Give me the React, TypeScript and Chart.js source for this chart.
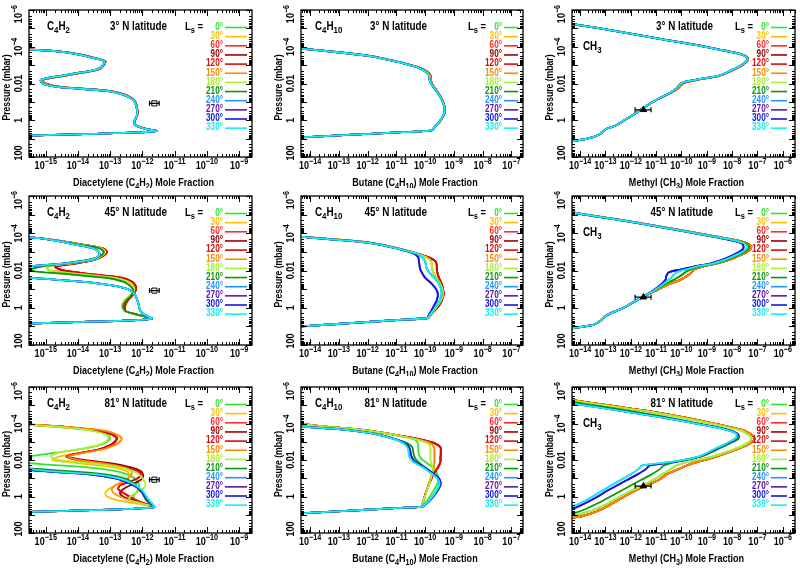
import React, { useEffect, useRef } from "react";
import { Chart, registerables } from "chart.js";

Chart.register(...registerables);

type Seg = [string, number]; // text, 0 normal / 1 superscript / -1 subscript

// ---------------- seasons (solar longitude Ls) ----------------
const SEASONS = [0, 30, 60, 90, 120, 150, 180, 210, 240, 270, 300, 330];
const SEASON_COLORS = [
  "#2ee62e", "#ffbe00", "#ff2a2a", "#a00000", "#dc0a0a", "#ff8c00",
  "#aaf032", "#0a960a", "#1e96ff", "#6414aa", "#1414e6", "#14f0f0",
];
const LATITUDES = ["3° N latitude", "45° N latitude", "81° N latitude"];

// ---------------- axes (log10 units) ----------------
const Y_RANGE = [-6, 2]; // log10 pressure (mbar), top -> bottom
const Y_LABEL_VALUES = [-6, -4, -2, 0, 2];
const Y_LABEL_TEXT: Seg[][] = [
  [["10", 0], ["−6", 1]],
  [["10", 0], ["−4", 1]],
  [["0.01", 0]],
  [["1", 0]],
  [["100", 0]],
];
const X_RANGE_C4H2 = [-15.52, -8.6];
const X_RANGE_C4H10 = [-14.32, -6.6];
const X_RANGE_CH3 = [-14.32, -5.52];
const X_TICKS_C4H2 = [-15, -14, -13, -12, -11, -10, -9];
const X_TICKS_C4H10 = [-14, -13, -12, -11, -10, -9, -8, -7];
const X_TICKS_CH3 = [-14, -13, -12, -11, -10, -9, -8, -7, -6];
const MINOR = [0.301, 0.477, 0.602, 0.699, 0.778, 0.845, 0.903, 0.954];

// ---------------- log10 pressure grids (mbar) ----------------
const LP_C4H2 = [-4.2, -3.85, -3.75, -3.6, -3.4, -3.2, -3.0, -2.8, -2.6, -2.4, -2.2, -2.0, -1.8, -1.6, -1.4, -1.2, -1.0, -0.8, -0.6, -0.4, -0.2, 0.0, 0.2, 0.35, 0.5, 0.58, 0.66, 0.75, 0.85, 1.2];
const LP_C4H10 = [-4.1, -3.9, -3.7, -3.5, -3.3, -3.1, -2.9, -2.7, -2.5, -2.3, -2.1, -1.9, -1.6, -1.3, -1.0, -0.7, -0.4, -0.1, 0.2, 0.4, 0.55, 0.65, 0.8, 1.0, 1.2];
const LP_CH3 = [-5.5, -5.24, -5.0, -4.7, -4.4, -4.1, -3.8, -3.6, -3.45, -3.3, -3.15, -3.0, -2.8, -2.6, -2.4, -2.2, -2.05, -1.9, -1.7, -1.5, -1.2, -0.9, -0.6, -0.3, 0.0, 0.3, 0.5, 0.7, 0.9, 1.1, 1.3];

// ---------------- C4H2 profiles: log10 mole fraction ----------------
const C4H2_03N_A = [-19, -15.5, -14.6, -14.0, -13.5, -13.15, -13.2, -13.32, -13.85, -14.5, -15.1, -15.0, -14.5, -13.05, -12.55, -12.33, -12.22, -12.18, -12.16, -12.15, -12.17, -12.23, -12.24, -12.12, -11.82, -11.56, -12.1, -13.8, -15.7, -22];
const C4H2_03N_B = [-19, -15.55, -14.65, -14.05, -13.55, -13.18, -13.23, -13.36, -13.9, -14.58, -15.15, -15.1, -14.58, -13.12, -12.6, -12.36, -12.24, -12.2, -12.17, -12.16, -12.18, -12.24, -12.25, -12.13, -11.83, -11.57, -12.1, -13.8, -15.7, -22];
const C4H2_03N_MAP = [0, 0, 0, 0, 0, 0, 1, 1, 1, 1, 1, 1];

const C4H2_45N_G = [-19, -16.5, -15.3, -14.65, -14.0, -13.35, -13.2, -13.3, -13.6, -14.35, -15.2, -15.5, -14.3, -13.1, -12.6, -12.4, -12.3, -12.3, -12.38, -12.5, -12.58, -12.6, -12.5, -12.2, -11.85, -11.71, -12.2, -13.6, -15.6, -22];
const C4H2_45N_O = [-19, -16.5, -15.3, -14.62, -13.95, -13.3, -13.15, -13.25, -13.5, -14.15, -14.95, -14.9, -13.9, -12.85, -12.45, -12.3, -12.25, -12.3, -12.42, -12.55, -12.62, -12.62, -12.52, -12.22, -11.85, -11.71, -12.2, -13.6, -15.6, -22];
const C4H2_45N_R = [-19, -16.5, -15.3, -14.6, -13.9, -13.25, -13.1, -13.2, -13.45, -14.0, -14.7, -14.45, -13.6, -12.62, -12.32, -12.22, -12.2, -12.25, -12.35, -12.45, -12.52, -12.55, -12.5, -12.2, -11.85, -11.71, -12.2, -13.6, -15.6, -22];
const C4H2_45N_B = [-19, -16.5, -15.3, -14.7, -14.1, -13.55, -13.35, -13.35, -13.55, -14.3, -15.6, -16.4, -16.3, -15.4, -13.9, -12.95, -12.45, -12.28, -12.2, -12.16, -12.12, -12.1, -12.05, -11.95, -11.8, -11.71, -12.2, -13.6, -15.6, -22];
const C4H2_45N_MAP = [0, 1, 2, 2, 2, 1, 1, 0, 3, 3, 3, 3];

const C4H2_81N_G0 = [-18, -14.9, -14.2, -13.5, -13.1, -13.0, -13.1, -13.35, -13.9, -14.7, -15.5, -15.9, -15.3, -13.7, -12.85, -12.45, -12.25, -12.15, -12.1, -12.12, -12.2, -12.28, -12.22, -12.02, -11.72, -11.63, -12.2, -13.6, -15.6, -22];
const C4H2_81N_O30 = [-18, -14.6, -13.95, -13.15, -12.8, -12.65, -12.72, -12.9, -13.25, -13.9, -14.55, -14.8, -13.9, -12.9, -12.5, -12.4, -12.45, -12.6, -12.85, -13.05, -13.15, -13.1, -12.8, -12.3, -11.85, -11.68, -12.2, -13.6, -15.6, -22];
const C4H2_81N_RA = [-18, -14.7, -14.05, -13.3, -12.95, -12.78, -12.85, -13.0, -13.3, -13.85, -14.35, -14.0, -13.1, -12.5, -12.15, -12.05, -12.15, -12.4, -12.7, -12.75, -12.6, -12.4, -12.2, -12.0, -11.75, -11.65, -12.2, -13.6, -15.6, -22];
const C4H2_81N_RB = [-18, -14.7, -14.05, -13.3, -12.95, -12.8, -12.86, -13.02, -13.32, -13.9, -14.3, -13.8, -12.9, -12.35, -12.05, -11.98, -12.0, -12.15, -12.4, -12.6, -12.7, -12.6, -12.3, -12.0, -11.72, -11.64, -12.2, -13.6, -15.6, -22];
const C4H2_81N_O150 = [-18, -14.6, -13.95, -13.15, -12.8, -12.64, -12.7, -12.88, -13.2, -13.8, -14.3, -14.0, -13.2, -12.6, -12.35, -12.35, -12.45, -12.65, -12.85, -12.95, -12.9, -12.7, -12.4, -12.1, -11.8, -11.66, -12.2, -13.6, -15.6, -22];
const C4H2_81N_Y180 = [-18, -14.9, -14.25, -13.55, -13.15, -13.05, -13.15, -13.4, -13.95, -14.6, -14.85, -14.6, -13.5, -12.7, -12.3, -12.1, -12.0, -11.93, -11.9, -12.0, -12.2, -12.38, -12.4, -12.1, -11.75, -11.64, -12.2, -13.6, -15.6, -22];
const C4H2_81N_G210 = [-17, -17, -17, -17, -17, -17, -17, -17, -17, -17, -17, -17, -17, -15.9, -14.4, -13.1, -12.55, -12.32, -12.18, -12.08, -12.0, -11.95, -11.88, -11.8, -11.7, -11.63, -12.2, -13.6, -15.6, -22];
const C4H2_81N_CA = [-17, -17, -17, -17, -17, -17, -17, -17, -17, -17, -17, -17, -17, -16.0, -15.0, -13.4, -12.75, -12.42, -12.2, -12.05, -11.95, -11.88, -11.8, -11.72, -11.65, -11.6, -12.2, -13.6, -15.6, -22];
const C4H2_81N_CB = [-17, -17, -17, -17, -17, -17, -17, -17, -17, -17, -17, -17, -17, -16.1, -15.2, -13.6, -12.85, -12.5, -12.27, -12.1, -12.0, -11.92, -11.84, -11.75, -11.67, -11.61, -12.2, -13.6, -15.6, -22];
const C4H2_81N_MAP = [0, 1, 2, 3, 2, 4, 5, 6, 7, 8, 8, 7];

// ---------------- C4H10 profiles ----------------
const C4H10_03N_A = [-15.6, -14.3, -13.0, -11.93, -11.29, -10.73, -10.28, -9.99, -9.83, -9.81, -9.79, -9.73, -9.6, -9.47, -9.38, -9.32, -9.33, -9.42, -9.56, -9.68, -9.77, -10.8, -12.7, -15.2, -17.8];
const C4H10_03N_B = [-15.6, -14.35, -13.05, -11.97, -11.32, -10.76, -10.32, -10.04, -9.88, -9.86, -9.83, -9.76, -9.62, -9.49, -9.39, -9.33, -9.34, -9.43, -9.57, -9.69, -9.78, -10.8, -12.7, -15.2, -17.8];
const C4H10_03N_MAP = [0, 0, 0, 0, 0, 0, 1, 1, 1, 1, 1, 1];

const C4H10_45N_A = [-16, -15.0, -13.4, -11.95, -11.25, -10.7, -10.25, -9.85, -9.65, -9.6, -9.6, -9.58, -9.52, -9.43, -9.38, -9.36, -9.42, -9.53, -9.7, -9.82, -9.9, -10.88, -12.35, -14.3, -16.3];
const C4H10_45N_B = [-16, -15.0, -13.4, -11.95, -11.27, -10.72, -10.27, -9.95, -9.8, -9.77, -9.76, -9.72, -9.6, -9.48, -9.4, -9.38, -9.45, -9.58, -9.72, -9.83, -9.9, -10.88, -12.35, -14.3, -16.3];
const C4H10_45N_C = [-16, -15.0, -13.45, -12.0, -11.3, -10.75, -10.3, -10.1, -10.0, -9.98, -9.95, -9.86, -9.68, -9.53, -9.45, -9.43, -9.5, -9.62, -9.75, -9.85, -9.92, -10.88, -12.35, -14.3, -16.3];
const C4H10_45N_D = [-16, -15.0, -13.45, -12.0, -11.32, -10.78, -10.38, -10.24, -10.22, -10.2, -10.18, -10.12, -10.0, -9.78, -9.62, -9.56, -9.6, -9.7, -9.8, -9.88, -9.94, -10.88, -12.35, -14.3, -16.3];
const C4H10_45N_MAP = [1, 1, 0, 0, 0, 1, 1, 2, 2, 3, 3, 2];

const C4H10_81N_WA = [-15.0, -13.9, -12.5, -11.5, -10.75, -10.1, -9.65, -9.47, -9.46, -9.46, -9.47, -9.47, -9.55, -9.68, -9.78, -9.86, -9.93, -10.0, -10.05, -10.1, -10.13, -11.2, -12.9, -15.2, -17.6];
const C4H10_81N_WB = [-15.0, -13.9, -12.5, -11.5, -10.78, -10.2, -9.8, -9.7, -9.68, -9.68, -9.68, -9.68, -9.7, -9.75, -9.82, -9.88, -9.94, -10.0, -10.06, -10.1, -10.13, -11.2, -12.9, -15.2, -17.6];
const C4H10_81N_Y180 = [-15.0, -13.9, -12.5, -11.5, -10.8, -10.25, -9.9, -9.82, -9.82, -9.82, -9.82, -9.8, -9.75, -9.75, -9.8, -9.86, -9.92, -9.98, -10.05, -10.1, -10.13, -11.2, -12.9, -15.2, -17.6];
const C4H10_81N_G0 = [-15.0, -13.9, -12.5, -11.5, -10.85, -10.35, -10.25, -10.24, -10.24, -10.22, -10.15, -10.0, -9.75, -9.6, -9.55, -9.58, -9.68, -9.8, -9.92, -10.02, -10.1, -11.2, -12.9, -15.2, -17.6];
const C4H10_81N_G210 = [-15.8, -14.9, -13.1, -12.0, -11.35, -10.95, -10.6, -10.45, -10.42, -10.4, -10.35, -10.25, -10.0, -9.75, -9.55, -9.5, -9.56, -9.68, -9.83, -9.96, -10.08, -11.2, -12.9, -15.2, -17.6];
const C4H10_81N_CA = [-15.8, -14.9, -13.1, -12.0, -11.4, -11.0, -10.75, -10.62, -10.58, -10.57, -10.52, -10.42, -10.08, -9.82, -9.58, -9.5, -9.58, -9.7, -9.85, -9.98, -10.1, -11.2, -12.9, -15.2, -17.6];
const C4H10_81N_CB = [-15.8, -14.9, -13.1, -12.0, -11.38, -10.98, -10.7, -10.56, -10.52, -10.5, -10.45, -10.35, -10.04, -9.76, -9.52, -9.46, -9.54, -9.67, -9.83, -9.97, -10.09, -11.2, -12.9, -15.2, -17.6];
const C4H10_81N_MAP = [3, 1, 0, 0, 0, 1, 2, 4, 5, 6, 6, 5];

// ---------------- CH3 profiles ----------------
const CH3_03N_A = [-15.5, -14.33, -13.2, -11.95, -10.72, -9.41, -8.33, -7.65, -7.42, -7.37, -7.46, -7.6, -7.86, -8.17, -8.56, -9.38, -9.88, -10.02, -10.17, -10.42, -10.85, -11.25, -11.57, -11.9, -12.25, -12.62, -13.0, -13.15, -13.45, -14.1, -15.0];
const CH3_03N_B = [-15.5, -14.35, -13.22, -11.98, -10.75, -9.45, -8.37, -7.68, -7.45, -7.4, -7.49, -7.63, -7.9, -8.2, -8.6, -9.45, -9.95, -10.1, -10.22, -10.45, -10.87, -11.26, -11.58, -11.9, -12.25, -12.62, -13.0, -13.15, -13.45, -14.1, -15.0];
const CH3_03N_MAP = [0, 0, 0, 0, 0, 0, 1, 1, 1, 1, 1, 1];

const CH3_45N_R = [-15.6, -14.75, -13.75, -12.35, -11.0, -9.75, -8.55, -7.75, -7.38, -7.25, -7.28, -7.42, -7.72, -8.08, -8.55, -9.2, -9.5, -9.6, -9.78, -10.05, -10.6, -11.05, -11.48, -11.9, -12.28, -12.8, -13.05, -13.2, -13.45, -14.3, -15.3];
const CH3_45N_M = [-15.6, -14.75, -13.78, -12.38, -11.05, -9.8, -8.6, -7.82, -7.45, -7.33, -7.36, -7.5, -7.8, -8.15, -8.6, -9.3, -9.65, -9.85, -10.05, -10.3, -10.72, -11.1, -11.5, -11.9, -12.28, -12.8, -13.05, -13.2, -13.45, -14.3, -15.3];
const CH3_45N_C = [-15.6, -14.75, -13.8, -12.4, -11.08, -9.85, -8.65, -7.88, -7.52, -7.42, -7.45, -7.6, -7.9, -8.25, -8.7, -9.45, -9.85, -10.2, -10.35, -10.5, -10.8, -11.12, -11.5, -11.9, -12.28, -12.8, -13.05, -13.2, -13.45, -14.3, -15.3];
const CH3_45N_B = [-15.6, -14.8, -13.85, -12.45, -11.12, -9.9, -8.72, -7.98, -7.62, -7.55, -7.58, -7.72, -8.0, -8.35, -8.8, -9.55, -10.05, -10.5, -10.6, -10.63, -10.85, -11.15, -11.5, -11.9, -12.28, -12.8, -13.05, -13.2, -13.45, -14.3, -15.3];
const CH3_45N_MAP = [1, 0, 0, 0, 0, 0, 1, 1, 2, 3, 3, 2];

const CH3_81N_W = [-15.3, -14.08, -12.9, -11.4, -10.15, -9.07, -8.08, -7.5, -7.3, -7.16, -7.11, -7.2, -7.45, -7.8, -8.2, -8.6, -8.95, -9.35, -9.8, -10.12, -10.6, -10.9, -11.4, -11.85, -12.25, -12.62, -12.88, -13.15, -13.5, -14.0, -15.0];
const CH3_81N_GY = [-15.4, -14.2, -13.05, -11.55, -10.3, -9.2, -8.2, -7.62, -7.42, -7.28, -7.24, -7.32, -7.55, -7.9, -8.3, -8.75, -9.2, -9.75, -10.2, -10.42, -10.78, -11.12, -11.55, -12.0, -12.42, -12.8, -13.08, -13.4, -13.85, -14.4, -15.3];
const CH3_81N_G210 = [-15.6, -14.6, -13.5, -12.1, -10.8, -9.7, -8.6, -8.0, -7.8, -7.72, -7.76, -7.95, -8.25, -8.55, -8.85, -9.2, -9.7, -10.2, -10.7, -10.85, -11.2, -11.6, -12.0, -12.4, -12.8, -13.2, -13.5, -13.8, -14.2, -14.8, -15.6];
const CH3_81N_CA = [-16.0, -15.0, -13.85, -12.46, -11.09, -9.84, -8.67, -8.1, -7.85, -7.82, -7.9, -8.1, -8.38, -8.7, -8.97, -9.3, -9.75, -10.37, -11.55, -11.7, -12.02, -12.4, -12.78, -13.15, -13.5, -13.9, -14.2, -14.45, -14.8, -15.3, -16.0];
const CH3_81N_CB = [-15.8, -14.95, -13.78, -12.42, -11.05, -9.8, -8.63, -8.06, -7.82, -7.79, -7.87, -8.06, -8.34, -8.65, -8.93, -9.25, -9.7, -10.25, -11.25, -11.4, -11.75, -12.15, -12.55, -12.95, -13.3, -13.7, -14.0, -14.3, -14.65, -15.2, -15.9];
const CH3_81N_MAP = [1, 0, 0, 0, 0, 0, 1, 2, 3, 4, 4, 3];

// ---------------- observations (log10 values) ----------------
const OBS_C4H2_X = [-11.78, -11.63, -11.48]; // low, centre, high
const OBS_C4H2_LP = [-0.92];
const OBS_CH3_X = [-11.83, -11.5, -11.2];
const OBS_CH3_LP = [-0.57];

// ---------------- labels ----------------
const TITLE_C4H2: Seg[] = [["Diacetylene (C", 0], ["4", -1], ["H", 0], ["2", -1], [") Mole Fraction", 0]];
const TITLE_C4H10: Seg[] = [["Butane (C", 0], ["4", -1], ["H", 0], ["10", -1], [") Mole Fraction", 0]];
const TITLE_CH3: Seg[] = [["Methyl (CH", 0], ["3", -1], [") Mole Fraction", 0]];
const SPECIES_C4H2: Seg[] = [["C", 0], ["4", -1], ["H", 0], ["2", -1]];
const SPECIES_C4H10: Seg[] = [["C", 0], ["4", -1], ["H", 0], ["10", -1]];
const SPECIES_CH3: Seg[] = [["CH", 0], ["3", -1]];

// ---------------- layout (page pixels) ----------------
const COL_FRAME = [[29, 252], [301, 523], [572, 795]];
const ROW_FRAME = [[10, 157], [196, 345], [387, 533]];
const COL_CELL = [[0, 264], [264, 533], [533, 800]];
const ROW_CELL = [[0, 188], [188, 376], [376, 568]];
const SPECIES_DX = [18, 14, 11];
const SPECIES_DY = [17, 17, 37];
const LAT_RIGHT = [138, 126, 141];
const LEG_LS_DX = [-67, -55, -60];
const LEG_LABEL_RIGHT = [-29, -21, -26];
const LEG_LINE = [[-27, -5], [-19, -5], [-24, -8]];
const Y_LABEL_NUDGE = [4, 0, 0, 0, -4];

const FONT_FAMILY = "'Liberation Sans', Arial, Helvetica, sans-serif";
const SQUEEZE = 0.82;
const SMALL = 0.8;

interface Obs { x: number[]; lp: number[]; style: string; fill: string }
interface PanelSpec {
  row: number; col: number;
  lp: number[]; profiles: number[][]; map: number[];
  xr: number[]; xt: number[];
  xTitle: Seg[]; species: Seg[];
  obs: Obs | null;
}

const OBS_C4H2: Obs = { x: OBS_C4H2_X, lp: OBS_C4H2_LP, style: "rect", fill: "#ffffff" };
const OBS_CH3: Obs = { x: OBS_CH3_X, lp: OBS_CH3_LP, style: "triangle", fill: "#000000" };

const PANELS: PanelSpec[] = [
  { row: 0, col: 0, lp: LP_C4H2, profiles: [C4H2_03N_A, C4H2_03N_B], map: C4H2_03N_MAP, xr: X_RANGE_C4H2, xt: X_TICKS_C4H2, xTitle: TITLE_C4H2, species: SPECIES_C4H2, obs: OBS_C4H2 },
  { row: 0, col: 1, lp: LP_C4H10, profiles: [C4H10_03N_A, C4H10_03N_B], map: C4H10_03N_MAP, xr: X_RANGE_C4H10, xt: X_TICKS_C4H10, xTitle: TITLE_C4H10, species: SPECIES_C4H10, obs: null },
  { row: 0, col: 2, lp: LP_CH3, profiles: [CH3_03N_A, CH3_03N_B], map: CH3_03N_MAP, xr: X_RANGE_CH3, xt: X_TICKS_CH3, xTitle: TITLE_CH3, species: SPECIES_CH3, obs: OBS_CH3 },
  { row: 1, col: 0, lp: LP_C4H2, profiles: [C4H2_45N_G, C4H2_45N_O, C4H2_45N_R, C4H2_45N_B], map: C4H2_45N_MAP, xr: X_RANGE_C4H2, xt: X_TICKS_C4H2, xTitle: TITLE_C4H2, species: SPECIES_C4H2, obs: OBS_C4H2 },
  { row: 1, col: 1, lp: LP_C4H10, profiles: [C4H10_45N_A, C4H10_45N_B, C4H10_45N_C, C4H10_45N_D], map: C4H10_45N_MAP, xr: X_RANGE_C4H10, xt: X_TICKS_C4H10, xTitle: TITLE_C4H10, species: SPECIES_C4H10, obs: null },
  { row: 1, col: 2, lp: LP_CH3, profiles: [CH3_45N_R, CH3_45N_M, CH3_45N_C, CH3_45N_B], map: CH3_45N_MAP, xr: X_RANGE_CH3, xt: X_TICKS_CH3, xTitle: TITLE_CH3, species: SPECIES_CH3, obs: OBS_CH3 },
  { row: 2, col: 0, lp: LP_C4H2, profiles: [C4H2_81N_G0, C4H2_81N_O30, C4H2_81N_RA, C4H2_81N_RB, C4H2_81N_O150, C4H2_81N_Y180, C4H2_81N_G210, C4H2_81N_CA, C4H2_81N_CB], map: C4H2_81N_MAP, xr: X_RANGE_C4H2, xt: X_TICKS_C4H2, xTitle: TITLE_C4H2, species: SPECIES_C4H2, obs: OBS_C4H2 },
  { row: 2, col: 1, lp: LP_C4H10, profiles: [C4H10_81N_WA, C4H10_81N_WB, C4H10_81N_Y180, C4H10_81N_G0, C4H10_81N_G210, C4H10_81N_CA, C4H10_81N_CB], map: C4H10_81N_MAP, xr: X_RANGE_C4H10, xt: X_TICKS_C4H10, xTitle: TITLE_C4H10, species: SPECIES_C4H10, obs: null },
  { row: 2, col: 2, lp: LP_CH3, profiles: [CH3_81N_W, CH3_81N_GY, CH3_81N_G210, CH3_81N_CA, CH3_81N_CB], map: CH3_81N_MAP, xr: X_RANGE_CH3, xt: X_TICKS_CH3, xTitle: TITLE_CH3, species: SPECIES_CH3, obs: OBS_CH3 },
];

function segFont(size: number, mode: number) {
  const s = mode ? Math.round(size * SMALL * 10) / 10 : size;
  return `bold ${s}px ${FONT_FAMILY}`;
}

function drawRich(ctx: CanvasRenderingContext2D, segs: Seg[], x: number, y: number, size: number, color: string, align: string, rot = 0) {
  ctx.save();
  let w = 0;
  for (const [t, m] of segs) {
    ctx.font = segFont(size, m);
    w += ctx.measureText(t).width;
  }
  ctx.translate(x, y);
  if (rot) ctx.rotate(rot);
  ctx.scale(SQUEEZE, 1);
  let cx = align === "left" ? 0 : align === "center" ? -w / 2 : -w;
  ctx.fillStyle = color;
  ctx.textBaseline = "middle";
  ctx.textAlign = "left";
  for (const [t, m] of segs) {
    ctx.font = segFont(size, m);
    const dy = m === 1 ? -size * 0.36 : m === -1 ? size * 0.3 : 0;
    ctx.fillText(t, cx, dy);
    cx += ctx.measureText(t).width;
  }
  ctx.restore();
}

function makeDecor(spec: PanelSpec) {
  return {
    id: "panelDecor",
    afterDatasetsDraw(chart: any) {
      if (!spec.obs) return;
      const { ctx, scales } = chart;
      const x = scales.x, y = scales.y;
      const py = y.getPixelForValue(spec.obs.lp[0]);
      const xa = x.getPixelForValue(spec.obs.x[0]);
      const xb = x.getPixelForValue(spec.obs.x[2]);
      ctx.save();
      ctx.strokeStyle = "#000";
      ctx.lineWidth = 1.2;
      ctx.beginPath();
      ctx.moveTo(xa, py); ctx.lineTo(xb, py);
      ctx.moveTo(xa, py - 2.5); ctx.lineTo(xa, py + 2.5);
      ctx.moveTo(xb, py - 2.5); ctx.lineTo(xb, py + 2.5);
      ctx.stroke();
      ctx.restore();
    },
    afterDraw(chart: any) {
      const { ctx, chartArea: a, scales } = chart;
      const x = scales.x, y = scales.y;
      const col = spec.col;
      ctx.save();
      // frame
      ctx.strokeStyle = "#000";
      ctx.lineWidth = 1.3;
      ctx.strokeRect(a.left, a.top, a.right - a.left, a.bottom - a.top);
      // inward ticks
      ctx.lineWidth = 1;
      ctx.beginPath();
      const marks = [0, ...MINOR];
      for (let d = Math.floor(x.min); d <= Math.ceil(x.max); d++) {
        marks.forEach((m, j) => {
          const v = d + m;
          if (v < x.min || v > x.max) return;
          const px = Math.round(x.getPixelForValue(v)) + 0.5;
          const len = j === 0 ? 6 : 3;
          ctx.moveTo(px, a.bottom); ctx.lineTo(px, a.bottom - len);
          ctx.moveTo(px, a.top); ctx.lineTo(px, a.top + len);
        });
      }
      for (let d = Y_RANGE[0]; d <= Y_RANGE[1]; d++) {
        marks.forEach((m, j) => {
          const v = d + m;
          if (v < Y_RANGE[0] || v > Y_RANGE[1]) return;
          const py = Math.round(y.getPixelForValue(v)) + 0.5;
          const len = j === 0 ? 6 : 3;
          ctx.moveTo(a.left, py); ctx.lineTo(a.left + len, py);
          ctx.moveTo(a.right, py); ctx.lineTo(a.right - len, py);
        });
      }
      ctx.stroke();
      // tick labels
      spec.xt.forEach((t) => {
        drawRich(ctx, [["10", 0], ["−" + String(-t), 1]], x.getPixelForValue(t), a.bottom + 9, 11, "#000", "center");
      });
      Y_LABEL_VALUES.forEach((v, i) => {
        drawRich(ctx, Y_LABEL_TEXT[i], a.left - 10, y.getPixelForValue(v) + Y_LABEL_NUDGE[i], 11, "#000", "center", -Math.PI / 2);
      });
      // axis titles
      drawRich(ctx, spec.xTitle, (a.left + a.right) / 2 + 3, a.bottom + 26, 11, "#000", "center");
      drawRich(ctx, [["Pressure (mbar)", 0]], a.left - 22, (a.top + a.bottom) / 2 + 4, 10.5, "#000", "center", -Math.PI / 2);
      // species + latitude
      drawRich(ctx, spec.species, a.left + SPECIES_DX[col], a.top + SPECIES_DY[col], 12, "#000", "left");
      drawRich(ctx, [[LATITUDES[spec.row], 0]], a.left + LAT_RIGHT[col], a.top + 16.5, 12, "#000", "right");
      // legend
      drawRich(ctx, [["L", 0], ["s", -1], [" =", 0]], a.right + LEG_LS_DX[col], a.top + 17, 11.5, "#000", "left");
      SEASONS.forEach((s, i) => {
        const yy = a.top + 17 + i * 9.15;
        drawRich(ctx, [[`${s}°`, 0]], a.right + LEG_LABEL_RIGHT[col], yy, 10, SEASON_COLORS[i], "right");
        ctx.strokeStyle = SEASON_COLORS[i];
        ctx.lineWidth = 1.6;
        ctx.beginPath();
        ctx.moveTo(a.right + LEG_LINE[col][0], yy + 0.5);
        ctx.lineTo(a.right + LEG_LINE[col][1], yy + 0.5);
        ctx.stroke();
      });
      ctx.restore();
    },
  };
}

function Panel({ spec }: { spec: PanelSpec }) {
  const ref = useRef<HTMLCanvasElement>(null);
  const [cl, cr] = COL_CELL[spec.col];
  const [ct, cb] = ROW_CELL[spec.row];
  const [fl, fr] = COL_FRAME[spec.col];
  const [ft, fb] = ROW_FRAME[spec.row];
  const W = cr - cl;
  const H = cb - ct;

  useEffect(() => {
    if (!ref.current) return;
    const datasets: any[] = SEASONS.map((s, i) => ({
      label: `${s}°`,
      data: spec.lp.map((p, k) => ({ x: spec.profiles[spec.map[i]][k], y: p })),
      borderColor: SEASON_COLORS[i],
      backgroundColor: SEASON_COLORS[i],
      borderWidth: 1.8,
      pointRadius: 0,
      tension: 0.3,
      fill: false,
      clip: 0,
      order: 12 - i,
    }));
    if (spec.obs) {
      datasets.push({
        label: "observation",
        data: [{ x: spec.obs.x[1], y: spec.obs.lp[0] }],
        showLine: false,
        pointStyle: spec.obs.style,
        pointRadius: 3.6,
        pointBackgroundColor: spec.obs.fill,
        pointBorderColor: "#000",
        pointBorderWidth: 1,
        borderColor: "#000",
        backgroundColor: spec.obs.fill,
        clip: 0,
        order: 0,
      });
    }
    const chart = new Chart(ref.current, {
      type: "line",
      data: { datasets },
      options: {
        animation: false,
        responsive: false,
        maintainAspectRatio: false,
        events: [],
        layout: { padding: { left: fl - cl, right: cr - fr, top: ft - ct, bottom: cb - fb } },
        elements: { line: { capBezierPoints: false } },
        plugins: { legend: { display: false }, tooltip: { enabled: false } },
        scales: {
          x: { type: "linear", min: spec.xr[0], max: spec.xr[1], display: false },
          y: { type: "linear", min: Y_RANGE[0], max: Y_RANGE[1], reverse: true, display: false },
        },
      } as any,
      plugins: [makeDecor(spec)],
    });
    return () => chart.destroy();
  }, []);

  return (
    <canvas
      ref={ref}
      width={W}
      height={H}
      style={{ position: "absolute", left: cl, top: ct, width: W, height: H }}
    />
  );
}

export default function App() {
  return (
    <div style={{ position: "absolute", left: 0, top: 0, width: 800, height: 568, background: "#ffffff" }}>
      {PANELS.map((p, i) => (
        <Panel key={i} spec={p} />
      ))}
    </div>
  );
}
